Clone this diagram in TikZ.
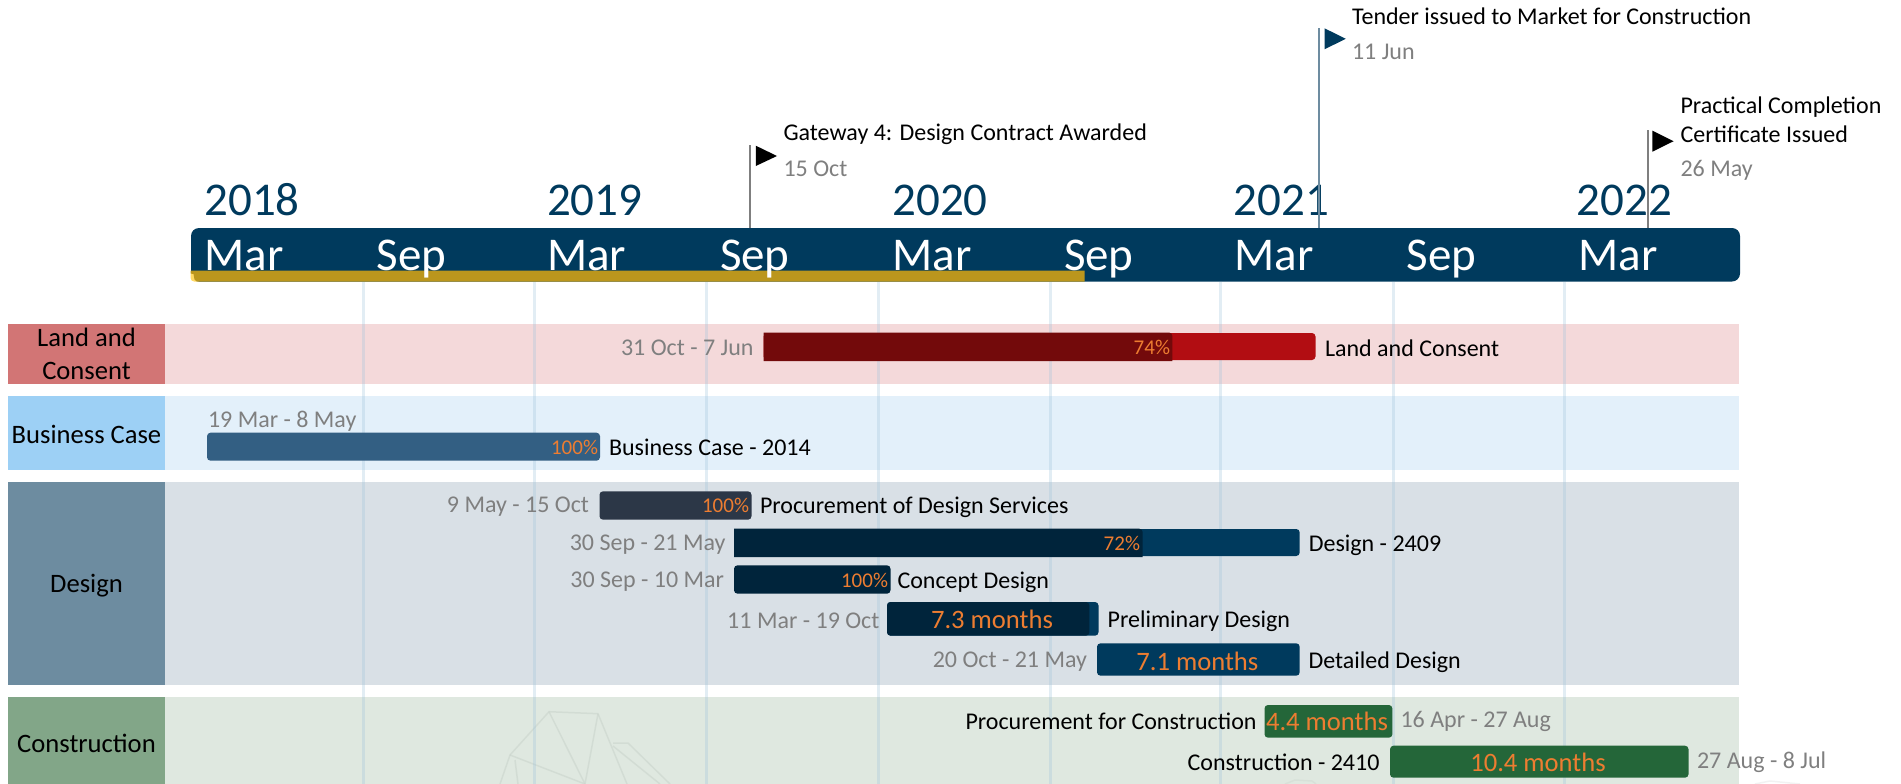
\documentclass[tikz,border=0pt]{standalone}
\usepackage{fontspec}
\setmainfont{Carlito}
\definecolor{navy}{HTML}{003A5D}
\definecolor{deep}{HTML}{00243B}
\definecolor{gold}{HTML}{BB961D}
\definecolor{goldedge}{HTML}{FFD966}
\definecolor{orng}{HTML}{ED7D31}
\definecolor{datec}{HTML}{7F7F7F}
\definecolor{gridc}{HTML}{9FC3DC}
\definecolor{landL}{HTML}{D27575}
\definecolor{landB}{HTML}{F4D9DA}
\definecolor{bizL}{HTML}{9DD0F5}
\definecolor{bizB}{HTML}{E3F0FA}
\definecolor{desL}{HTML}{6D8CA0}
\definecolor{desB}{HTML}{D9E0E6}
\definecolor{conL}{HTML}{82A688}
\definecolor{conB}{HTML}{DFE8E0}
\definecolor{wm}{HTML}{C9D3CB}
\definecolor{landbar}{HTML}{B20D12}
\definecolor{landprog}{HTML}{730A0B}
\definecolor{bizbar}{HTML}{335F83}
\definecolor{procbar}{HTML}{2C3747}
\definecolor{conbar}{HTML}{246639}
\newcommand{\fs}[2]{\fontsize{#1}{#2}\selectfont}
\tikzset{
  x=1pt,y=-1pt,
  plain/.style={inner sep=0pt,outer sep=0pt,font=\fs{24}{29}},
  lbl/.style={plain,anchor=west,text=black},
  lblr/.style={plain,anchor=east,text=black},
  dat/.style={plain,anchor=west,text=datec},
  datr/.style={plain,anchor=east,text=datec},
  pct/.style={inner sep=0pt,outer sep=0pt,anchor=east,text=orng,font=\fs{21}{25}},
  dur/.style={inner sep=0pt,outer sep=0pt,text=orng,font=\fs{26.6}{32}},
  cat/.style={inner sep=0pt,outer sep=0pt,align=center,text=black,font=\fs{26.6}{33}},
  big/.style={inner sep=0pt,outer sep=0pt,anchor=base west,font=\fs{47}{56}},
  grid/.style={gridc,opacity=.3,line width=3pt},
  pole/.style={line width=2pt},
  wmark/.style={wm,line width=1.5pt,opacity=.55},
}
\newcommand{\rect}[5]{\fill[#1] (#2,#3) rectangle (#4,#5);}
\newcommand{\gbar}[5]{\fill[#1,rounded corners=3.5pt] (#2,#3) rectangle (#4,#5);}
\begin{document}
\begin{tikzpicture}
\useasboundingbox (0,0) rectangle (1901,784);
% bands
\rect{landB}{165}{323.5}{1739}{383.5}
\rect{bizB}{165}{396}{1739}{469.5}
\rect{desB}{165}{482}{1739}{684.5}
\rect{conB}{165}{697}{1739}{784}
% watermark
\draw[wmark,line join=round] (500,784) -- (510,755) -- (549,711.7) -- (598,713.7) -- (627,784);
\draw[wmark] (549,711.7) -- (585,784) -- (598,713.7);
\draw[wmark] (510,755) -- (585,784);
\draw[wmark] (515,760) -- (518,784);
\draw[wmark] (613,743) -- (628,743) -- (670,784);
\draw[wmark] (613,746) -- (660,784);
\draw[wmark,opacity=.35] (1285,784) -- (1295,780) -- (1312,781) -- (1316,784);
\draw[wmark,opacity=.25,color=gray!40] (1755,784) -- (1770,781) -- (1800,784);
% grid lines
\foreach \gx in {363.6,534.5,706.7,878,1050.6,1220,1393.6,1564}
  \draw[grid] (\gx,282) -- (\gx,784);
% header bar
\fill[navy,rounded corners=8pt] (191,228) rectangle (1740,281.5);
\fill[goldedge,rounded corners=4pt] (190.5,271) rectangle (200,281.7);
\fill[gold] (190.5,270.7) -- (1084.5,270.7) -- (1084.5,281.7) -- (197,281.7) -- (194.5,279.5) -- (193.5,274) -- (190.5,273.5) -- cycle;
% months
\foreach \mx/\mt in {204.5/Mar,376.5/Sep,547/Mar,720/Sep,892.5/Mar,1064/Sep,1234.5/Mar,1406.5/Sep,1578.5/Mar}
  \node[big,text=white] at (\mx,270.5) {\mt};
% years
\foreach \yx/\yt in {204.5/2018,547/2019,892.5/2020,1233.5/2021,1576.5/2022}
  \node[big,text=navy] at (\yx,215.5) {\yt};
% categories
\rect{landL}{8}{323.5}{165}{383.5}
\rect{bizL}{8}{396}{165}{469.5}
\rect{desL}{8}{482}{165}{684.5}
\rect{conL}{8}{697}{165}{784}
\node[cat] (cland) at (86.5,354) {Land and\\Consent};
\node[cat] (cbiz) at (86.5,434) {Business Case};
\node[cat] (cdes) at (86.5,586) {Design};
\node[cat] (ccon) at (86.5,743) {Construction};
% milestones
\coordinate (gw) at (750.3,228);
\coordinate (gwt) at (750.3,145);
\draw[pole,datec] (gw) -- (gwt);
\fill[black] (755.8,145.7) -- (777,156) -- (755.8,166) -- cycle;
\node[lbl] (gwl) at (783.5,134.5) {Gateway 4: Design Contract Awarded};
\node[dat] (gwd) at (783.5,169) {15 Oct};
\coordinate (td) at (1318.5,228);
\coordinate (tdt) at (1318.5,28);
\draw[pole,color=desL] (td) -- (tdt);
\fill[navy] (1324.5,28.3) -- (1345.8,38.8) -- (1324.5,49.3) -- cycle;
\node[lbl] (tdl) at (1352,16.7) {Tender issued to Market for Construction};
\node[dat] (tdd) at (1352,52) {11 Jun};
\coordinate (pc) at (1647.6,228);
\coordinate (pct0) at (1647.6,130);
\draw[pole,datec] (pc) -- (pct0);
\fill[black] (1652.4,130.7) -- (1673.6,141.2) -- (1652.4,151.7) -- cycle;
\node[lbl,align=left] (pcl) at (1680.5,119.5) {Practical Completion\\Certificate Issued};
\node[dat] (pcd) at (1680.5,170.5) {26 May};
% Land and Consent
\gbar{landbar}{763.6}{333}{1315.5}{360}
\fill[landprog,rounded corners=3.5pt] (763.6,332.5) -- (1172.4,332.5) [sharp corners] -- (1172.4,361) -- (763.6,361) -- cycle;
\node[pct] (p1) at (1170,347) {74\%};
\node[datr] (d1) at (753.5,348) {31 Oct - 7 Jun};
\node[lbl] (l1) at (1325,348) {Land and Consent};
% Business case
\gbar{bizbar}{207}{432.7}{600}{460.7}
\node[pct] (p2) at (598,447) {100\%};
\node[dat] (d2) at (208,421) {19 Mar - 8 May};
\node[lbl] (l2) at (609,447) {Business Case - 2014};
% Procurement of design services
\gbar{procbar}{599.5}{491.3}{751.5}{519.7}
\node[pct] (p3) at (749,505) {100\%};
\node[datr] (d3) at (589,507) {9 May - 15 Oct};
\node[lbl] (l3) at (760,507) {Procurement of Design Services};
% Design
\gbar{navy}{734}{529}{1299.7}{556}
\fill[deep,rounded corners=3.5pt] (734,528.7) -- (1142.7,528.7) [sharp corners] -- (1142.7,557) -- (734,557) -- cycle;
\node[pct] (p4) at (1140,543) {72\%};
\node[datr] (d4) at (725.5,545) {30 Sep - 21 May};
\node[lbl] (l4) at (1308.8,545) {Design - 2409};
% Concept
\gbar{deep}{734}{565.3}{890.5}{593.7}
\node[pct] (p5) at (888,580) {100\%};
\node[datr] (d5) at (724,582) {30 Sep - 10 Mar};
\node[lbl] (l5) at (897.5,582) {Concept Design};
% Preliminary
\gbar{navy}{887}{602}{1098.5}{635.7}
\gbar{deep}{887}{602}{1089.4}{635.7}
\node[dur] (p6) at (992,619) {7.3 months};
\node[datr] (d6) at (879.4,621) {11 Mar - 19 Oct};
\node[lbl] (l6) at (1107.6,621) {Preliminary Design};
% Detailed
\gbar{navy}{1097}{643.3}{1299.7}{675.7}
\node[dur] (p7) at (1197.3,661) {7.1 months};
\node[datr] (d7) at (1087,662) {20 Oct - 21 May};
\node[lbl] (l7) at (1308.5,662) {Detailed Design};
% Procurement for construction
\gbar{conbar}{1264.5}{705}{1392.4}{737.7}
\node[dur] (p8) at (1327,721.7) {4.4 months};
\node[lblr] (l8) at (1256.5,721.7) {Procurement for Construction};
\node[dat] (d8) at (1400.5,721.7) {16 Apr - 27 Aug};
% Construction
\gbar{conbar}{1390}{745.7}{1688.5}{777.7}
\node[dur] (p9) at (1538,762.7) {10.4 months};
\node[lblr] (l9) at (1379.5,762.7) {Construction - 2410};
\node[dat] (d9) at (1697,762.7) {27 Aug - 8 Jul};
\end{tikzpicture}
\end{document}
